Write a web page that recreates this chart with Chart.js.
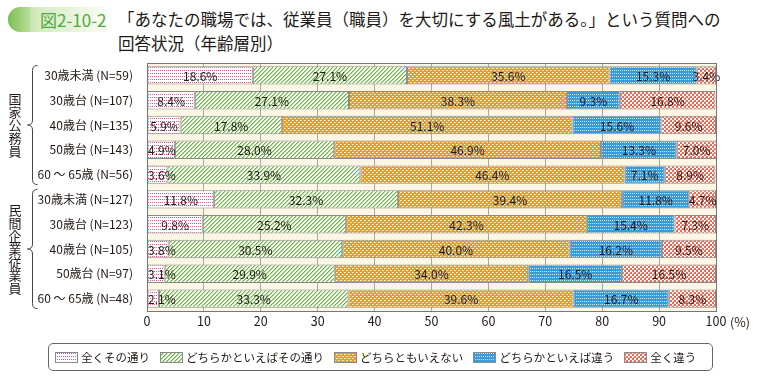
<!DOCTYPE html>
<html lang="ja">
<head>
<meta charset="UTF-8">
<title>図2-10-2</title>
<script src="https://cdn.jsdelivr.net/npm/chart.js"></script>
<style>
  body { margin: 0; background: #fff; font-family: "Noto Sans CJK JP", "Noto Sans", sans-serif; color: #231815; }
  .wrap { position: relative; width: 760px; height: 380px; overflow: hidden; }
  #chart { position: absolute; left: 0; top: 0; }
  .badge { position: absolute; left: 8px; top: 7px; width: 106px; height: 25px; border-radius: 13px 0 0 13px;
    background: linear-gradient(to right, #a9d585 0%, #d7ecc4 30%, #eef7e5 75%, rgba(255,255,255,0) 100%); }
  .badge::before { content: ""; position: absolute; left: 0; top: 0; width: 22px; height: 25px; border-radius: 13px 0 0 13px;
    background: linear-gradient(to right, #7cbf4f, #b8de9a); }
  .badge span { position: absolute; left: 32px; top: 0; font-size: 17px; line-height: 25px; color: #52a93a; white-space: nowrap; }
  .title { position: absolute; left: 118px; top: 7px; font-size: 16.5px; line-height: 24px; color: #231815; white-space: nowrap; }
  .legend { position: absolute; left: 48px; top: 343px; width: 665px; height: 28px; border: 1px solid #666; border-radius: 5px;
    display: flex; align-items: center; padding-left: 6px; box-sizing: border-box; font-size: 11.5px; }
  .legend .item { display: flex; align-items: center; margin-right: 10px; white-space: nowrap; }
  .legend canvas { margin-right: 3px; }
</style>
</head>
<body>
<div class="wrap">
  <div class="badge"><span>図2-10-2</span></div>
  <div class="title">「あなたの職場では、従業員（職員）を大切にする風土がある。」という質問への<br>回答状況（年齢層別）</div>
  <canvas id="chart" width="760" height="380"></canvas>
  <div class="legend" id="legend"></div>
</div>
<script>
const categories = ['30歳未満 (N=59)', '30歳台 (N=107)', '40歳台 (N=135)', '50歳台 (N=143)', '60 ～ 65歳 (N=56)',
  '30歳未満 (N=127)', '30歳台 (N=123)', '40歳台 (N=105)', '50歳台 (N=97)', '60 ～ 65歳 (N=48)'];
const groupNames = ['国家公務員', '民間企業従業員'];
const groupRanges = [[0, 4], [5, 9]];
const seriesNames = ['全くその通り', 'どちらかといえばその通り', 'どちらともいえない', 'どちらかといえば違う', '全く違う'];

const agree = [18.6, 8.4, 5.9, 4.9, 3.6, 11.8, 9.8, 3.8, 3.1, 2.1];
const somewhatAgree = [27.1, 27.1, 17.8, 28.0, 33.9, 32.3, 25.2, 30.5, 29.9, 33.3];
const neither = [35.6, 38.3, 51.1, 46.9, 46.4, 39.4, 42.3, 40.0, 34.0, 39.6];
const somewhatDisagree = [15.3, 9.3, 15.6, 13.3, 7.1, 11.8, 15.4, 16.2, 16.5, 16.7];
const disagree = [3.4, 16.8, 9.6, 7.0, 8.9, 4.7, 7.3, 9.5, 16.5, 8.3];

const FONT = '"Noto Sans CJK JP", "Noto Sans", sans-serif';
const TEXT = '#231815';

// small tiles for the hatch fills
function tile(w, h, draw) {
  const c = document.createElement('canvas');
  c.width = w; c.height = h;
  draw(c.getContext('2d'));
  return c;
}
const tiles = [
  tile(4, 3, g => { g.fillStyle = '#fff'; g.fillRect(0, 0, 4, 3); g.fillStyle = '#e8529c';
    g.fillRect(0, 1, 1, 1); g.fillRect(2, 1, 1, 1); }),
  tile(4, 4, g => { g.fillStyle = '#fff'; g.fillRect(0, 0, 4, 4); g.fillStyle = '#66b83f';
    for (let i = 0; i < 4; i++) g.fillRect(i, 3 - i, 1, 1); g.fillStyle = '#b3dc9c';
    for (let i = 0; i < 4; i++) g.fillRect((i + 1) % 4, 3 - i, 1, 1); }),
  tile(4, 4, g => { g.fillStyle = '#f29a1c'; g.fillRect(0, 0, 4, 4); g.fillStyle = '#fff';
    g.fillRect(0, 0, 1, 1); g.fillRect(2, 2, 1, 1); g.fillStyle = '#f8cf93'; g.fillRect(1, 0, 1, 1); g.fillRect(3, 2, 1, 1); }),
  tile(4, 3, g => { g.fillStyle = '#3c9ad6'; g.fillRect(0, 0, 4, 3); g.fillStyle = '#cfe6f6';
    g.fillRect(0, 1, 1, 1); g.fillRect(2, 1, 1, 1); }),
  tile(4, 4, g => { g.fillStyle = '#fff'; g.fillRect(0, 0, 4, 4); g.fillStyle = '#ef6a55';
    g.fillRect(2, 0, 2, 2); g.fillRect(0, 2, 2, 2); g.fillStyle = '#f49a8c'; g.fillRect(1, 1, 1, 1); })
];
const ctx = document.getElementById('chart').getContext('2d');
const fills = tiles.map(t => ctx.createPattern(t, 'repeat'));

const chartDecor = {
  id: 'chartDecor',
  beforeDraw(chart) {
    const a = chart.chartArea, g = chart.ctx;
    g.save();
    g.fillStyle = '#fcf6e5';
    g.fillRect(a.left, a.top, a.right - a.left, a.bottom - a.top);
    g.restore();
  },
  afterDatasetsDraw(chart) {
    const g = chart.ctx, a = chart.chartArea;
    g.save();
    g.font = '12px ' + FONT;
    g.fillStyle = TEXT;
    g.textAlign = 'center';
    g.textBaseline = 'middle';
    chart.data.datasets.forEach((ds, di) => {
      chart.getDatasetMeta(di).data.forEach((bar, i) => {
        const txt = ds.data[i].toFixed(1) + '%';
        const w = g.measureText(txt).width;
        let x = (bar.x + bar.base) / 2;
        x = Math.max(x, a.left + w / 2 + 1);
        g.fillText(txt, x, bar.y + 1);
      });
    });
    g.strokeStyle = '#777';
    g.lineWidth = 1;
    g.strokeRect(a.left + 0.5, a.top + 0.5, a.right - a.left, a.bottom - a.top);
    g.restore();
  },
  afterDraw(chart) {
    const g = chart.ctx, y = chart.scales.y, x = chart.scales.x;
    g.save();
    // unit next to the 100 tick
    g.font = '12.5px ' + FONT;
    g.fillStyle = TEXT;
    g.textBaseline = 'middle';
    g.textAlign = 'left';
    g.fillText('(%)', x.getPixelForValue(100) + 14, 322);
    // group braces and vertical labels
    g.strokeStyle = '#444';
    g.lineWidth = 1;
    groupRanges.forEach((r, gi) => {
      const top = y.getPixelForValue(r[0]) - 10;
      const bot = y.getPixelForValue(r[1]) + 10;
      const mid = (top + bot) / 2;
      const bx = 32.5;
      g.beginPath();
      g.moveTo(bx + 5, top);
      g.quadraticCurveTo(bx, top, bx, top + 5);
      g.lineTo(bx, mid - 5);
      g.quadraticCurveTo(bx, mid, bx - 5, mid);
      g.quadraticCurveTo(bx, mid, bx, mid + 5);
      g.lineTo(bx, bot - 5);
      g.quadraticCurveTo(bx, bot, bx + 5, bot);
      g.stroke();
      const chars = [...groupNames[gi]];
      const step = 13;
      g.font = '13px ' + FONT;
      g.textAlign = 'center';
      const start = mid - (chars.length - 1) * step / 2;
      chars.forEach((ch, k) => g.fillText(ch, 15, start + k * step));
    });
    g.restore();
  }
};

const datasetsData = [agree, somewhatAgree, neither, somewhatDisagree, disagree];

new Chart(ctx, {
  type: 'bar',
  data: {
    labels: categories,
    datasets: datasetsData.map((d, i) => ({
      label: seriesNames[i],
      data: d,
      backgroundColor: fills[i],
      borderColor: '#8a8a8a',
      borderWidth: 1,
      borderSkipped: false,
      barPercentage: 0.74,
      categoryPercentage: 1
    }))
  },
  options: {
    indexAxis: 'y',
    responsive: false,
    devicePixelRatio: 1,
    animation: false,
    layout: { padding: { top: 63, right: 44, left: 0, bottom: 0 } },
    plugins: { legend: { display: false }, tooltip: { enabled: false } },
    scales: {
      x: {
        stacked: true,
        min: 0, max: 100,
        ticks: { stepSize: 10, color: TEXT, font: { family: FONT, size: 12.5 }, padding: 3, maxRotation: 0 },
        grid: { color: '#a8a8a8', drawTicks: false },
        border: { display: false },
        afterFit(s) { s.height = 69; }
      },
      y: {
        stacked: true,
        ticks: { color: TEXT, font: { family: FONT, size: 12 }, padding: 6 },
        grid: { display: false },
        border: { display: false },
        afterFit(s) { s.width = 147; }
      }
    }
  },
  plugins: [chartDecor]
});

// legend with the same fills
const legend = document.getElementById('legend');
seriesNames.forEach((name, i) => {
  const item = document.createElement('div');
  item.className = 'item';
  const sw = document.createElement('canvas');
  sw.width = 23; sw.height = 11;
  const g = sw.getContext('2d');
  g.fillStyle = g.createPattern(tiles[i], 'repeat');
  g.fillRect(0, 0, 23, 11);
  g.strokeStyle = '#8a8a8a';
  g.strokeRect(0.5, 0.5, 22, 10);
  item.appendChild(sw);
  const t = document.createElement('span');
  t.textContent = name;
  item.appendChild(t);
  legend.appendChild(item);
});
</script>
</body>
</html>
